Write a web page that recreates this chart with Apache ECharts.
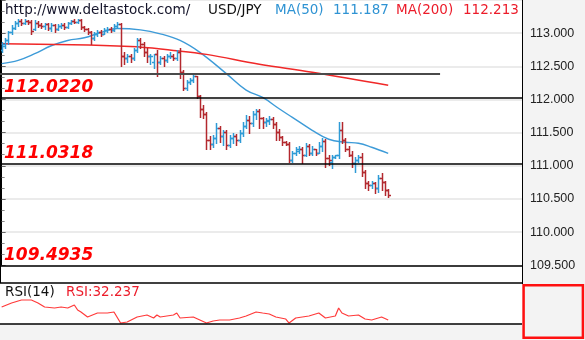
<!DOCTYPE html>
<html><head><meta charset="utf-8">
<script src="https://cdn.jsdelivr.net/npm/echarts@6/dist/echarts.min.js"></script>
<style>html,body{margin:0;padding:0;background:#fff}#c{width:585px;height:340px}</style>
</head><body><div id="c"></div>
<script>
// ---- data ----
const open = [112.74,112.80,112.89,113.01,113.08,113.16,113.19,113.16,113.19,113.17,
113.07,113.16,113.13,113.11,113.14,113.08,113.13,113.07,113.11,113.13,
113.10,113.16,113.19,113.17,113.20,113.10,113.07,113.02,112.92,112.98,
113.02,112.99,113.05,113.07,113.05,113.11,113.14,112.66,112.62,112.65,
112.62,112.74,112.89,112.83,112.72,112.65,112.56,112.68,112.56,112.63,
112.59,112.65,112.66,112.63,112.71,112.41,112.17,112.27,112.30,112.35,
112.045,111.86,111.775,111.385,111.325,111.415,111.565,111.445,111.505,111.31,
111.415,111.445,111.385,111.49,111.595,111.685,111.64,111.775,111.82,111.715,
111.655,111.67,111.70,111.625,111.505,111.43,111.355,111.325,111.08,111.20,
111.23,111.26,111.16,111.295,111.20,111.25,111.20,111.295,111.37,111.11,
111.05,111.13,111.16,111.535,111.385,111.26,111.17,111.04,111.08,111.13,
110.90,110.74,110.71,110.74,110.66,110.81,110.75,110.63];
const high = [112.86,112.93,113.04,113.13,113.19,113.22,113.22,113.22,113.20,113.20,
113.20,113.19,113.16,113.16,113.16,113.16,113.14,113.14,113.16,113.16,
113.17,113.20,113.22,113.22,113.22,113.11,113.08,113.04,113.01,113.05,
113.05,113.08,113.10,113.10,113.14,113.17,113.16,112.71,112.69,112.68,
112.77,112.93,112.93,112.86,112.77,112.69,112.69,112.74,112.66,112.65,
112.68,112.71,112.69,112.74,112.77,112.44,112.30,112.33,112.38,112.36,
112.06,111.92,111.81,111.445,111.46,111.64,111.595,111.535,111.535,111.46,
111.49,111.475,111.535,111.655,111.76,111.745,111.83,111.86,111.86,111.73,
111.715,111.745,111.73,111.655,111.55,111.445,111.37,111.355,111.23,111.28,
111.295,111.28,111.34,111.325,111.295,111.26,111.355,111.415,111.40,111.16,
111.16,111.17,111.655,111.655,111.415,111.295,111.22,111.13,111.16,111.19,
110.93,110.77,110.77,110.75,110.86,110.89,110.77,110.65];
const low = [112.71,112.78,112.84,112.98,113.07,113.11,113.13,113.14,113.14,112.99,
113.05,113.10,113.08,113.07,113.05,113.04,113.02,113.05,113.08,113.07,
113.08,113.14,113.16,113.16,113.07,113.04,112.99,112.84,112.89,112.95,
112.96,112.98,113.02,113.02,113.04,113.08,112.51,112.54,112.56,112.56,
112.59,112.71,112.78,112.66,112.56,112.54,112.48,112.36,112.53,112.50,
112.56,112.62,112.59,112.60,112.32,112.14,112.15,112.23,112.26,112.02,
111.73,111.715,111.26,111.26,111.28,111.34,111.355,111.31,111.26,111.28,
111.34,111.31,111.355,111.445,111.565,111.49,111.595,111.70,111.565,111.565,
111.595,111.625,111.565,111.385,111.385,111.31,111.31,111.05,111.05,111.17,
111.19,111.04,111.14,111.16,111.16,111.16,111.19,111.23,110.98,111.01,
110.96,111.11,111.11,111.34,111.23,111.14,110.98,110.90,111.05,110.84,
110.66,110.63,110.66,110.59,110.60,110.63,110.556,110.53];
const close = [112.83,112.89,113.01,113.08,113.16,113.19,113.16,113.19,113.17,113.04,
113.16,113.13,113.11,113.14,113.08,113.13,113.07,113.11,113.13,113.10,
113.16,113.19,113.17,113.20,113.10,113.07,113.02,112.92,112.98,113.02,
112.99,113.05,113.07,113.05,113.11,113.14,112.66,112.62,112.65,112.62,
112.74,112.89,112.83,112.72,112.65,112.66,112.68,112.56,112.63,112.59,
112.65,112.66,112.63,112.71,112.41,112.17,112.27,112.30,112.35,112.045,
111.86,111.775,111.385,111.325,111.415,111.565,111.445,111.505,111.31,111.415,
111.445,111.385,111.49,111.595,111.685,111.64,111.775,111.82,111.715,111.655,
111.685,111.70,111.625,111.505,111.43,111.355,111.325,111.08,111.20,111.25,
111.26,111.16,111.295,111.20,111.25,111.20,111.295,111.37,111.11,111.08,
111.13,111.16,111.535,111.385,111.26,111.17,111.04,111.08,111.13,110.90,
110.74,110.71,110.74,110.66,110.81,110.75,110.63,110.552];

const ma50Idx = [0,5,10,15,20,25,30,35,42,48,54,60,68,74,79,84,88,94,99,104,108,112,117];
const ma50Val = [112.54,112.59,112.69,112.81,112.89,112.93,113.01,113.07,113.05,112.99,112.89,112.71,112.39,112.14,112.03,111.86,111.73,111.535,111.40,111.355,111.34,111.28,111.187];
const ma200Idx = [0,39,52,62,78,94,117];
const ma200Val = [112.84,112.80,112.74,112.68,112.53,112.41,112.213];

const rsiIdx = [0,3,6,9,11,13,16,18,20,22,23,24,26,29,32,34,36,38,41,44,46,47,48,52,53,54,58,60,62,64,66,69,72,74,77,79,81,83,86,87,89,91,93,96,98,101,102,103,105,108,110,112,115,117];
const rsiVal = [56.1,63.4,68.9,68.9,63.4,56.1,54.3,56.1,54.3,59.8,50.6,47.0,37.8,45.1,45.1,47.0,26.8,28.7,37.8,41.5,36.0,41.5,37.8,41.5,45.1,36.0,37.8,32.3,26.8,30.5,32.3,32.3,36.0,39.6,47.0,45.1,43.3,37.8,34.1,26.8,36.0,37.8,39.6,45.1,36.0,39.6,54.3,45.1,39.6,41.5,34.1,32.3,37.8,32.237];

const levels = [112.0220, 111.0318, 109.4935];
const trendLevel = 112.39, trendEndIdx = 132.7;
const yTicks = [109.5, 110.0, 110.5, 111.0, 111.5, 112.0, 112.5, 113.0];
const headerSite = 'http://www.deltastock.com/', headerPair = 'USD/JPY';
const ma50Last = 111.187, ma200Last = 112.213, rsiLast = 32.237;

// ---- chart ----
const UP = '#2f9bd6', DOWN = '#b3282e';
const chart = echarts.init(document.getElementById('c'), null, {renderer:'canvas'});
const ohlc = open.map((o,i)=>[i,o,high[i],low[i],close[i]]);
const lastClose = close[close.length-1];

function renderItem(params, api){
  const i = api.value(0), o = api.value(1), h = api.value(2), l = api.value(3), c = api.value(4);
  const pH = api.coord([i,h]), pL = api.coord([i,l]), pO = api.coord([i,o]), pC = api.coord([i,c]);
  const x = Math.round(pH[0]) + 0.5;
  const col = c >= o ? UP : DOWN;
  const st = {stroke: col, lineWidth: 1.5};
  const yo = Math.round(pO[1]) + 0.5, yc = Math.round(pC[1]) + 0.5;
  return {type:'group', children:[
    {type:'line', shape:{x1:x, y1:Math.round(pH[1]), x2:x, y2:Math.round(pL[1])+1}, style:st},
    {type:'line', shape:{x1:x-2.5, y1:yo, x2:x, y2:yo}, style:st},
    {type:'line', shape:{x1:x, y1:yc, x2:x+2.5, y2:yc}, style:st}
  ]};
}

const F = 'DejaVu Sans';
const levelLabel = {show:true, position:'insideStartTop', distance:[4,2],
  color:'#ff0000', fontFamily:F, fontWeight:'bold', fontStyle:'italic', fontSize:17};
const option = {
  animation:false,
  backgroundColor:'#fff',
  grid:[
    {left:0, right:63, top:-0.75, height:266},
    {left:0, right:63, top:283, height:41},
    {left:0, right:63, top:-0.75, height:299.25}
  ],
  xAxis:[
    {type:'value', gridIndex:0, min:-0.5, max:157.5, show:false},
    {type:'value', gridIndex:1, min:-0.5, max:157.5, show:false},
    {type:'value', gridIndex:2, min:-0.5, max:157.5, show:false}
  ],
  yAxis:[
    {type:'value', gridIndex:0, position:'right', min:109.5, max:113.5, interval:0.5,
     axisLine:{show:true, lineStyle:{color:'#000', width:1}},
     axisTick:{show:true, length:4, lineStyle:{color:'#666'}},
     minorTick:{show:true, splitNumber:3, length:3, lineStyle:{color:'#888'}},
     axisLabel:{color:'#222', fontSize:12.5, fontFamily:'Liberation Sans', margin:8,
       formatter:v => yTicks.includes(v) ? v.toFixed(3) : ''},
     splitLine:{show:true, lineStyle:{color:'#ebebeb', width:2}}
    },
    {type:'value', gridIndex:1, min:25, max:100, show:false},
    {type:'value', gridIndex:2, min:109.0, max:113.5, show:false}
  ],
  graphic:[
    {type:'rect', z:-1, shape:{x:522, y:0, width:63, height:340}, style:{fill:'#f3f3f3'}},
    {type:'rect', z:-1, shape:{x:0, y:324, width:522, height:16}, style:{fill:'#f3f3f3'}},
    {type:'line', z:5, shape:{x1:522.5, y1:0, x2:522.5, y2:284}, style:{stroke:'#000', lineWidth:1}},
    {type:'line', z:5, shape:{x1:0, y1:283, x2:522, y2:283}, style:{stroke:'#000', lineWidth:1.5}},
    {type:'line', z:5, shape:{x1:0, y1:324, x2:522, y2:324}, style:{stroke:'#000', lineWidth:1.5}},
    {type:'line', z:5, shape:{x1:0.5, y1:0, x2:0.5, y2:283}, style:{stroke:'#000', lineWidth:1}},
    {type:'rect', z:5, shape:{x:523.6, y:285.3, width:59.3, height:52.5}, style:{fill:'none', stroke:'#ff1010', lineWidth:2.5}},
    {type:'text', z:6, x:5, y:10, style:{text:headerSite, fill:'#14142a', font:'13.5px "DejaVu Sans"', verticalAlign:'middle'}},
    {type:'text', z:6, x:208, y:10, style:{text:headerPair, fill:'#111', font:'13.5px "DejaVu Sans"', verticalAlign:'middle'}},
    {type:'text', z:6, x:275, y:10, style:{text:'MA(50)', fill:'#2f93d3', font:'13.5px "DejaVu Sans"', verticalAlign:'middle'}},
    {type:'text', z:6, x:333, y:10, style:{text:ma50Last.toFixed(3), fill:'#2f93d3', font:'13.5px "DejaVu Sans"', verticalAlign:'middle'}},
    {type:'text', z:6, x:396, y:10, style:{text:'MA(200)', fill:'#ec1c2a', font:'13.5px "DejaVu Sans"', verticalAlign:'middle'}},
    {type:'text', z:6, x:463, y:10, style:{text:ma200Last.toFixed(3), fill:'#ec1c2a', font:'13.5px "DejaVu Sans"', verticalAlign:'middle'}},
    {type:'text', z:6, x:5, y:292, style:{text:'RSI(14)', fill:'#111', font:'13.5px "DejaVu Sans"', verticalAlign:'middle'}},
    {type:'text', z:6, x:66, y:292, style:{text:'RSI:' + rsiLast.toFixed(3), fill:'#ec1c2a', font:'13.5px "DejaVu Sans"', verticalAlign:'middle'}}
  ],
  series:[
    {type:'line', xAxisIndex:2, yAxisIndex:2, data:[[0, 112.5]], symbol:'none', lineStyle:{opacity:0}, z:3,
     markLine:{silent:true, symbol:['none','none'], animation:false,
       data:[
         ...levels.map(v=>({yAxis:v, lineStyle:{color:'#000', width:1.5, type:'solid'},
           label:Object.assign({formatter:v.toFixed(4)}, levelLabel)})),
         [{coord:[-0.5, trendLevel], lineStyle:{color:'#4a4a4a', width:2, type:'solid'}, label:{show:false}},
          {coord:[trendEndIdx, trendLevel]}]
       ]}
    },
    {type:'line', xAxisIndex:0, yAxisIndex:0, data:ma50Idx.map((x,k)=>[x, ma50Val[k]]),
     smooth:0.4, symbol:'none', lineStyle:{color:'#3d9bd8', width:1.4}, z:3},
    {type:'line', xAxisIndex:0, yAxisIndex:0, data:ma200Idx.map((x,k)=>[x, ma200Val[k]]),
     smooth:0.4, symbol:'none', lineStyle:{color:'#f02828', width:1.5}, z:3,
     markLine:{silent:true, symbol:['none','none'], animation:false,
       data:[
         {yAxis:lastClose, lineStyle:{opacity:0},
          label:{show:true, position:'end', distance:1, offset:[0,8], formatter:lastClose.toFixed(3),
            backgroundColor:'#d97676', borderColor:'#a83a3a', borderWidth:1, padding:[2,6,1,4],
            color:'#111', fontSize:12.5, fontFamily:'Liberation Sans'}}
       ]}
    },
    {type:'custom', xAxisIndex:0, yAxisIndex:0, data:ohlc, renderItem:renderItem,
     encode:{x:0, y:[1,2,3,4]}, z:4, clip:false},
    {type:'line', xAxisIndex:1, yAxisIndex:1, data:rsiIdx.map((x,k)=>[x, rsiVal[k]]),
     symbol:'none', lineStyle:{color:'#ff3a3a', width:1.2}}
  ]
};
chart.setOption(option);
</script></body></html>
